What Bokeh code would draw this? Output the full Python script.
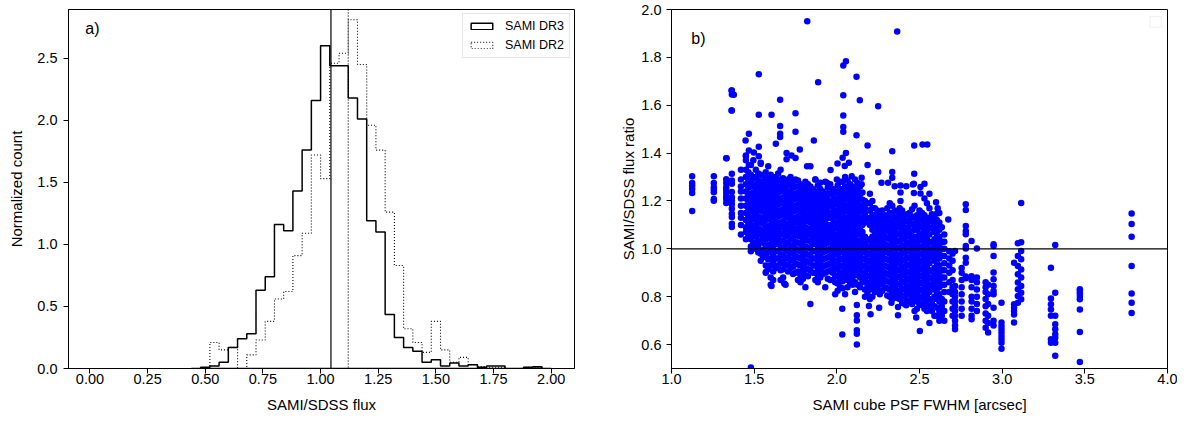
from bokeh.plotting import figure
from bokeh.models import (Range1d, FixedTicker, PrintfTickFormatter, Span, Label,
                          Legend, LegendItem, BoxAnnotation)
from bokeh.layouts import row
from bokeh.embed import file_html
from bokeh.resources import INLINE

FONT = "Liberation Sans"

# ---------------- panel a) histogram data ----------------
bin_edges = [0.44, 0.48, 0.52, 0.56, 0.60, 0.64, 0.68, 0.72, 0.76, 0.80,
             0.84, 0.88, 0.92, 0.96, 1.00, 1.04, 1.08, 1.12, 1.16, 1.20,
             1.24, 1.28, 1.32, 1.36, 1.40, 1.44, 1.48, 1.52, 1.56, 1.60,
             1.64, 1.68, 1.72, 1.76, 1.80, 1.84, 1.88, 1.92, 1.96, 2.00]
dr3_counts = [0.0, 0.01, 0.02, 0.05, 0.17, 0.24, 0.28, 0.63, 0.74, 1.16,
              1.11, 1.43, 1.76, 2.16, 2.60, 2.44, 2.44, 2.18, 2.01, 1.19,
              1.10, 0.435, 0.25, 0.17, 0.14, 0.05, 0.07, 0.02, 0.045, 0.02,
              0.03, 0.01, 0.02, 0.02, 0.0, 0.0, 0.01, 0.015, 0.0]
dr2_counts = [0.0, 0.0, 0.21, 0.15, 0.17, 0.0, 0.11, 0.23, 0.38, 0.56,
              0.62, 0.91, 1.09, 1.72, 1.53, 2.46, 2.54, 2.81, 2.45, 1.96,
              1.76, 1.26, 0.83, 0.32, 0.21, 0.13, 0.38, 0.15, 0.05, 0.09,
              0.03, 0.015, 0.01, 0.01, 0.0, 0.0, 0.01, 0.01, 0.0]
dr3_median = 1.045
dr2_median = 1.12
hist_x_ticks = [0.0, 0.25, 0.5, 0.75, 1.0, 1.25, 1.5, 1.75, 2.0]
hist_y_ticks = [0.0, 0.5, 1.0, 1.5, 2.0, 2.5]

# ---------------- panel b) scatter data ----------------
col_fwhm = [1.125, 1.256, 1.331, 1.365, 1.42, 1.45, 1.48, 1.51, 1.54, 1.57,
            1.60, 1.63, 1.66, 1.69, 1.72, 1.75, 1.78, 1.81, 1.84, 1.87,
            1.90, 1.93, 1.96, 1.99, 2.02, 2.05, 2.08, 2.11, 2.14, 2.17,
            2.20, 2.23, 2.26, 2.29, 2.32, 2.35, 2.38, 2.41, 2.44, 2.47,
            2.50, 2.53, 2.56, 2.59, 2.62, 2.65, 2.68, 2.70, 2.715, 2.755,
            2.78, 2.815, 2.847, 2.90, 2.915, 2.948, 2.996, 3.072, 3.095, 3.115,
            3.295, 3.321, 3.47, 3.783]
col_ratio = [
    [1.303, 1.275, 1.264, 1.250, 1.233, 1.158],
    [1.303, 1.275, 1.257, 1.247, 1.236, 1.208, 1.201],
    [1.378, 1.291, 1.275, 1.257, 1.247, 1.233, 1.219, 1.208, 1.191],
    [1.662, 1.645, 1.578, 1.314, 1.286, 1.272, 1.237, 1.216, 1.202, 1.186, 1.168, 1.147, 1.133, 1.105, 1.091],
    [1.33, 1.29, 1.26, 1.24, 1.21, 1.18, 1.15, 1.13, 1.10, 1.06],
    [1.39, 1.33, 1.30, 1.27, 1.24, 1.21, 1.18, 1.15, 1.12, 1.09, 1.07, 1.04],
    [1.35, 1.31, 1.28, 1.26, 1.23, 1.20, 1.18, 1.15, 1.12, 1.10, 1.07, 1.04, 1.01, 0.99],
    [1.33, 1.30, 1.27, 1.25, 1.22, 1.20, 1.17, 1.15, 1.12, 1.10, 1.07, 1.05, 1.02, 1.00],
    [1.36, 1.31, 1.28, 1.25, 1.23, 1.20, 1.18, 1.16, 1.13, 1.11, 1.08, 1.06, 1.03, 0.98, 0.95],
    [1.32, 1.29, 1.27, 1.24, 1.22, 1.19, 1.17, 1.14, 1.12, 1.09, 1.06, 1.04, 1.01, 0.97, 0.93, 0.90],
    [1.31, 1.28, 1.26, 1.23, 1.21, 1.18, 1.16, 1.13, 1.10, 1.08, 1.05, 1.02, 0.99, 0.96, 0.93, 0.88, 0.85],
    [1.30, 1.27, 1.25, 1.22, 1.20, 1.17, 1.15, 1.12, 1.10, 1.07, 1.04, 1.02, 0.99, 0.96, 0.92],
    [1.33, 1.29, 1.26, 1.24, 1.21, 1.19, 1.16, 1.14, 1.11, 1.09, 1.06, 1.03, 1.00, 0.97, 0.94, 0.91, 0.87],
    [1.28, 1.25, 1.23, 1.20, 1.18, 1.15, 1.13, 1.10, 1.08, 1.05, 1.02, 0.99, 0.96, 0.93, 0.85],
    [1.30, 1.27, 1.24, 1.22, 1.19, 1.17, 1.14, 1.12, 1.09, 1.07, 1.04, 1.01, 0.98, 0.95, 0.92],
    [1.29, 1.26, 1.23, 1.21, 1.18, 1.16, 1.13, 1.11, 1.08, 1.06, 1.03, 1.00, 0.97, 0.94, 0.90],
    [1.27, 1.25, 1.22, 1.20, 1.17, 1.15, 1.12, 1.10, 1.07, 1.05, 1.02, 0.99, 0.96, 0.93, 0.89, 0.86],
    [1.28, 1.25, 1.22, 1.19, 1.17, 1.14, 1.12, 1.09, 1.07, 1.04, 1.01, 0.98, 0.95, 0.92, 0.89, 0.84],
    [1.26, 1.23, 1.21, 1.18, 1.16, 1.13, 1.11, 1.08, 1.06, 1.03, 1.00, 0.97, 0.94, 0.91, 0.77],
    [1.29, 1.24, 1.22, 1.19, 1.17, 1.14, 1.12, 1.09, 1.07, 1.04, 1.02, 0.99, 0.96, 0.93, 0.90, 0.87],
    [1.25, 1.23, 1.20, 1.18, 1.15, 1.13, 1.10, 1.08, 1.05, 1.03, 1.00, 0.97, 0.94, 0.91, 0.88],
    [1.28, 1.22, 1.19, 1.17, 1.14, 1.12, 1.09, 1.07, 1.04, 1.02, 0.99, 0.96, 0.93, 0.90, 0.84],
    [1.27, 1.23, 1.20, 1.18, 1.15, 1.13, 1.10, 1.08, 1.05, 1.03, 1.00, 0.97, 0.94, 0.91, 0.87],
    [1.24, 1.21, 1.19, 1.16, 1.14, 1.11, 1.09, 1.06, 1.04, 1.01, 0.98, 0.95, 0.92, 0.89, 0.86, 0.81],
    [1.28, 1.25, 1.22, 1.20, 1.17, 1.15, 1.12, 1.10, 1.07, 1.05, 1.02, 0.99, 0.96, 0.93, 0.90, 0.87, 0.84],
    [1.30, 1.26, 1.23, 1.21, 1.18, 1.16, 1.13, 1.11, 1.08, 1.06, 1.03, 1.00, 0.97, 0.94, 0.91, 0.88, 0.81],
    [1.27, 1.24, 1.22, 1.19, 1.17, 1.14, 1.12, 1.09, 1.07, 1.04, 1.01, 0.98, 0.95, 0.92, 0.89, 0.86],
    [1.29, 1.25, 1.23, 1.20, 1.18, 1.15, 1.13, 1.10, 1.08, 1.05, 1.02, 0.99, 0.96, 0.93, 0.90, 0.86, 0.82],
    [1.26, 1.23, 1.21, 1.18, 1.16, 1.13, 1.11, 1.08, 1.06, 1.03, 1.00, 0.97, 0.94, 0.91, 0.88, 0.84],
    [1.20, 1.17, 1.14, 1.11, 1.05, 1.02, 0.99, 0.96, 0.93, 0.90, 0.87, 0.83, 0.80],
    [1.23, 1.19, 1.16, 1.13, 1.10, 1.04, 1.01, 0.98, 0.95, 0.92, 0.89, 0.86, 0.83, 0.79],
    [1.17, 1.14, 1.12, 1.09, 1.06, 1.03, 1.00, 0.97, 0.94, 0.91, 0.88, 0.85, 0.82],
    [1.15, 1.12, 1.09, 1.06, 1.03, 1.00, 0.97, 0.94, 0.91, 0.88, 0.85, 0.81],
    [1.14, 1.11, 1.08, 1.05, 1.02, 0.99, 0.96, 0.93, 0.90, 0.87, 0.84],
    [1.19, 1.15, 1.12, 1.09, 1.07, 1.04, 1.01, 0.98, 0.95, 0.92, 0.89, 0.86, 0.83, 0.80],
    [1.16, 1.13, 1.10, 1.08, 1.05, 1.02, 0.99, 0.96, 0.93, 0.90, 0.87, 0.84, 0.81],
    [1.17, 1.14, 1.11, 1.09, 1.06, 1.03, 1.00, 0.97, 0.94, 0.91, 0.88, 0.85, 0.82, 0.79],
    [1.14, 1.12, 1.09, 1.07, 1.04, 1.01, 0.98, 0.95, 0.92, 0.89, 0.86, 0.83, 0.80, 0.77],
    [1.15, 1.12, 1.10, 1.07, 1.05, 1.02, 0.99, 0.96, 0.93, 0.90, 0.87, 0.84, 0.81, 0.78],
    [1.18, 1.13, 1.10, 1.08, 1.05, 1.03, 1.00, 0.97, 0.94, 0.91, 0.88, 0.85, 0.82, 0.79],
    [1.16, 1.12, 1.09, 1.06, 1.04, 1.01, 0.98, 0.95, 0.92, 0.89, 0.86, 0.83, 0.80, 0.77],
    [1.21, 1.14, 1.11, 1.08, 1.05, 1.02, 0.99, 0.96, 0.93, 0.90, 0.87, 0.84, 0.81, 0.78, 0.75],
    [1.23, 1.17, 1.12, 1.09, 1.06, 1.03, 1.00, 0.97, 0.94, 0.91, 0.88, 0.85, 0.82, 0.79, 0.76, 0.69],
    [1.13, 1.10, 1.07, 1.04, 1.01, 0.98, 0.95, 0.92, 0.89, 0.86, 0.83, 0.80, 0.76, 0.72],
    [1.15, 1.11, 1.08, 1.05, 1.02, 0.99, 0.96, 0.93, 0.90, 0.87, 0.84, 0.81, 0.78, 0.74, 0.70],
    [1.06, 1.03, 1.00, 0.97, 0.94, 0.91, 0.88, 0.85, 0.82, 0.78, 0.74, 0.70],
    [0.99, 0.96, 0.93, 0.90, 0.86, 0.82],
    [0.98, 0.95, 0.91, 0.87, 0.84, 0.81, 0.78, 0.75, 0.72],
    [0.991, 0.845, 0.82, 0.80, 0.78, 0.76, 0.74, 0.72, 0.70, 0.68, 0.664],
    [0.92, 0.90, 0.87, 0.84, 0.81, 0.78, 0.75, 0.72],
    [1.186, 1.162, 1.095, 1.074, 1.061, 1.012, 1.001, 0.963, 0.942, 0.884, 0.877],
    [1.033, 0.885, 0.87, 0.84, 0.80, 0.78, 0.75, 0.72, 0.706],
    [1.001, 0.88, 0.86, 0.83, 0.80, 0.77, 0.74],
    [0.86, 0.84, 0.82, 0.79, 0.76, 0.73, 0.70, 0.67],
    [0.85, 0.81, 0.77, 0.72, 0.69, 0.65],
    [1.019, 1.012, 0.97, 0.901, 0.873, 0.845, 0.824, 0.81, 0.754, 0.70, 0.68],
    [0.775, 0.692, 0.678, 0.664, 0.65, 0.636, 0.622, 0.608, 0.583],
    [0.942, 0.768, 0.754, 0.74, 0.726, 0.692],
    [1.023, 0.97, 0.928, 0.894, 0.859, 0.831, 0.803, 0.775],
    [1.191, 1.028, 0.991, 0.956, 0.914, 0.88, 0.845, 0.817, 0.789],
    [0.921, 0.793, 0.768, 0.747, 0.72, 0.622, 0.608],
    [1.016, 0.817, 0.72, 0.685, 0.664, 0.643, 0.629, 0.608, 0.553],
    [0.831, 0.824, 0.814, 0.803, 0.789, 0.747, 0.653, 0.527],
    [1.148, 1.104, 1.051, 0.928, 0.813, 0.775, 0.732],
]
# in-between columns of the dense core
core_fwhm = [1.465, 1.495, 1.525, 1.555, 1.585, 1.615, 1.645, 1.675, 1.705, 1.735,
             1.765, 1.795, 1.825, 1.855, 1.885, 1.915, 1.945, 1.975, 2.005, 2.035,
             2.065, 2.095, 2.125, 2.155, 2.185, 2.215, 2.245, 2.275, 2.305, 2.335,
             2.365, 2.395, 2.425, 2.455, 2.485, 2.515, 2.545, 2.575, 2.605, 2.635]
core_ratio = [
    [1.32, 1.285, 1.255, 1.225, 1.195, 1.165, 1.135, 1.105, 1.08, 1.055],
    [1.37, 1.295, 1.265, 1.235, 1.21, 1.185, 1.16, 1.135, 1.085, 1.055, 1.025, 1.005],
    [1.315, 1.285, 1.26, 1.235, 1.21, 1.185, 1.16, 1.135, 1.11, 1.085, 1.06, 1.035, 1.01, 0.985],
    [1.305, 1.28, 1.255, 1.23, 1.205, 1.18, 1.155, 1.13, 1.105, 1.075, 1.05, 1.025, 0.995, 0.965],
    [1.345, 1.30, 1.275, 1.25, 1.225, 1.20, 1.175, 1.15, 1.125, 1.095, 1.07, 1.045, 1.015, 0.985, 0.955, 0.915],
    [1.29, 1.265, 1.24, 1.215, 1.19, 1.165, 1.14, 1.115, 1.09, 1.06, 1.035, 1.005, 0.975, 0.945, 0.905, 0.87],
    [1.315, 1.285, 1.26, 1.235, 1.21, 1.185, 1.16, 1.135, 1.105, 1.08, 1.05, 1.02, 0.99, 0.96, 0.93],
    [1.295, 1.27, 1.245, 1.215, 1.19, 1.165, 1.14, 1.115, 1.09, 1.065, 1.035, 1.005, 0.975, 0.945, 0.915, 0.88],
    [1.29, 1.265, 1.24, 1.21, 1.185, 1.16, 1.135, 1.105, 1.08, 1.055, 1.025, 0.995, 0.965, 0.935, 0.905],
    [1.28, 1.255, 1.23, 1.205, 1.18, 1.155, 1.125, 1.10, 1.075, 1.045, 1.015, 0.985, 0.955, 0.925, 0.895],
    [1.285, 1.26, 1.235, 1.21, 1.185, 1.16, 1.135, 1.11, 1.085, 1.055, 1.025, 0.995, 0.965, 0.935, 0.905, 0.87],
    [1.265, 1.235, 1.21, 1.185, 1.16, 1.135, 1.105, 1.08, 1.055, 1.03, 1.00, 0.97, 0.94, 0.91, 0.875],
    [1.27, 1.24, 1.215, 1.19, 1.165, 1.14, 1.115, 1.085, 1.06, 1.035, 1.005, 0.975, 0.945, 0.915, 0.885],
    [1.25, 1.225, 1.20, 1.175, 1.15, 1.125, 1.10, 1.075, 1.05, 1.02, 0.99, 0.96, 0.93, 0.90],
    [1.265, 1.235, 1.21, 1.185, 1.16, 1.135, 1.11, 1.085, 1.06, 1.035, 1.01, 0.98, 0.95, 0.92, 0.89, 0.86],
    [1.24, 1.21, 1.185, 1.16, 1.135, 1.11, 1.085, 1.06, 1.035, 1.01, 0.985, 0.955, 0.925, 0.895],
    [1.255, 1.23, 1.205, 1.18, 1.155, 1.13, 1.10, 1.075, 1.05, 1.025, 0.995, 0.965, 0.935, 0.905, 0.875],
    [1.25, 1.225, 1.20, 1.175, 1.15, 1.125, 1.10, 1.07, 1.045, 1.02, 0.99, 0.96, 0.93, 0.90, 0.87],
    [1.265, 1.235, 1.21, 1.185, 1.16, 1.135, 1.11, 1.085, 1.06, 1.03, 1.00, 0.975, 0.945, 0.915, 0.885, 0.855, 0.825],
    [1.28, 1.245, 1.22, 1.195, 1.17, 1.145, 1.12, 1.095, 1.07, 1.04, 1.015, 0.985, 0.955, 0.925, 0.895, 0.865, 0.835],
    [1.285, 1.255, 1.23, 1.205, 1.18, 1.155, 1.125, 1.10, 1.075, 1.05, 1.02, 0.99, 0.96, 0.93, 0.90, 0.87, 0.84],
    [1.26, 1.235, 1.21, 1.185, 1.16, 1.135, 1.11, 1.085, 1.06, 1.03, 1.00, 0.97, 0.94, 0.91, 0.88, 0.85],
    [1.275, 1.245, 1.22, 1.195, 1.17, 1.14, 1.115, 1.09, 1.065, 1.035, 1.01, 0.98, 0.95, 0.92, 0.89, 0.85],
    [1.235, 1.205, 1.18, 1.155, 1.125, 1.10, 1.07, 1.045, 1.015, 0.985, 0.955, 0.925, 0.895, 0.86],
    [1.19, 1.16, 1.125, 1.035, 1.005, 0.975, 0.945, 0.915, 0.885, 0.85, 0.815],
    [1.20, 1.17, 1.14, 1.11, 1.08, 1.05, 1.02, 0.99, 0.96, 0.93, 0.90, 0.87, 0.84, 0.80],
    [1.16, 1.13, 1.10, 1.075, 1.045, 1.015, 0.985, 0.955, 0.925, 0.895, 0.865, 0.83],
    [1.16, 1.13, 1.10, 1.07, 1.04, 1.01, 0.98, 0.95, 0.92, 0.89, 0.86, 0.825],
    [1.17, 1.13, 1.10, 1.075, 1.045, 1.015, 0.985, 0.955, 0.925, 0.895, 0.865, 0.835, 0.805],
    [1.18, 1.145, 1.115, 1.09, 1.06, 1.03, 1.00, 0.97, 0.94, 0.91, 0.88, 0.85, 0.82, 0.79],
    [1.155, 1.125, 1.095, 1.065, 1.035, 1.005, 0.975, 0.945, 0.915, 0.885, 0.855, 0.825, 0.795],
    [1.16, 1.13, 1.10, 1.075, 1.045, 1.015, 0.985, 0.955, 0.925, 0.895, 0.865, 0.835, 0.805, 0.775],
    [1.145, 1.115, 1.085, 1.055, 1.025, 0.995, 0.965, 0.935, 0.905, 0.875, 0.845, 0.815, 0.785],
    [1.165, 1.135, 1.105, 1.075, 1.04, 1.01, 0.98, 0.95, 0.92, 0.89, 0.86, 0.83, 0.80, 0.77],
    [1.14, 1.11, 1.08, 1.05, 1.02, 0.99, 0.96, 0.93, 0.90, 0.87, 0.84, 0.81, 0.78, 0.75],
    [1.15, 1.125, 1.095, 1.065, 1.035, 1.005, 0.975, 0.945, 0.915, 0.885, 0.855, 0.825, 0.795, 0.765],
    [1.19, 1.13, 1.10, 1.07, 1.04, 1.01, 0.98, 0.95, 0.92, 0.89, 0.86, 0.83, 0.80, 0.77, 0.74],
    [1.145, 1.115, 1.085, 1.025, 0.995, 0.965, 0.905, 0.875, 0.845, 0.78, 0.74],
    [1.12, 1.09, 1.06, 1.03, 1.00, 0.97, 0.94, 0.91, 0.88, 0.85, 0.82, 0.79, 0.755, 0.72],
    [1.09, 1.03, 1.00, 0.97, 0.91, 0.88, 0.85, 0.79, 0.76, 0.72],
]
single_fwhm = [1.528, 1.363, 1.377, 1.363, 1.657, 1.528, 1.605, 1.657, 1.657, 1.657,
               1.468, 1.448, 1.631, 1.528, 1.75, 1.75, 1.468, 1.498, 1.45, 1.528,
               1.696, 1.726, 1.75, 1.333, 1.45, 1.468, 1.54, 1.696, 1.821, 2.365,
               2.055, 2.039, 1.887, 2.119, 2.039, 2.139, 2.25, 2.039, 2.039, 2.039,
               2.119, 1.861, 2.186, 2.335, 2.468, 1.776, 2.055, 2.035, 2.073, 2.004,
               2.048, 1.82, 1.84, 2.186, 1.962, 2.25, 2.335, 2.335, 2.468, 2.518,
               2.547, 2.466, 2.466, 2.506, 2.506, 2.53, 2.385, 2.385, 2.385, 2.60,
               2.61, 2.605, 2.674, 1.48, 2.033, 2.033, 2.121, 2.121, 2.121, 2.121,
               2.121, 2.121, 2.194, 2.204, 2.256, 2.33, 2.37, 2.37, 2.42, 2.47,
               2.48, 2.502, 1.87, 1.90, 1.94, 2.00, 2.09, 2.15, 2.15, 2.27,
               2.31, 2.35, 2.42, 2.46, 1.571, 1.605, 1.682]
single_ratio = [1.729, 1.662, 1.644, 1.578, 1.623, 1.56, 1.56, 1.513, 1.481, 1.467,
                1.481, 1.453, 1.439, 1.427, 1.566, 1.489, 1.411, 1.402, 1.387, 1.387,
                1.40, 1.39, 1.38, 1.378, 1.37, 1.35, 1.355, 1.374, 1.951, 1.908,
                1.784, 1.766, 1.696, 1.719, 1.642, 1.621, 1.596, 1.557, 1.509, 1.489,
                1.475, 1.453, 1.432, 1.408, 1.432, 1.415, 1.40, 1.381, 1.36, 1.357,
                1.346, 1.345, 1.345, 1.35, 1.329, 1.321, 1.321, 1.297, 1.314, 1.436,
                1.436, 1.272, 1.233, 1.258, 1.231, 1.272, 1.265, 1.235, 1.20, 1.195,
                1.17, 1.148, 1.123, 0.504, 0.75, 0.642, 0.765, 0.722, 0.701, 0.66,
                0.645, 0.60, 0.761, 0.727, 0.754, 0.775, 0.757, 0.722, 0.764, 0.74,
                0.713, 0.657, 1.29, 1.276, 1.276, 1.29, 1.303, 1.297, 1.27, 1.276,
                1.276, 1.262, 1.262, 1.269, 0.903, 0.845, 0.855]
ratio_ref = 1.0
scat_x_ticks = [1.0, 1.5, 2.0, 2.5, 3.0, 3.5, 4.0]
scat_y_ticks = [0.6, 0.8, 1.0, 1.2, 1.4, 1.6, 1.8, 2.0]

DOT = "1 2"


def style(p):
    p.grid.visible = False
    p.outline_line_color = "black"
    p.outline_line_width = 1
    p.background_fill_color = "white"
    p.border_fill_color = "white"
    for ax in (p.xaxis[0], p.yaxis[0]):
        ax.axis_line_color = "black"
        ax.major_tick_line_color = "black"
        ax.major_tick_out = 5
        ax.major_tick_in = 0
        ax.minor_tick_line_color = None
        ax.major_label_text_font = FONT
        ax.major_label_text_font_size = "14.5px"
        ax.major_label_text_color = "black"
        ax.axis_label_text_font = FONT
        ax.axis_label_text_font_size = "15px"
        ax.axis_label_text_font_style = "normal"
        ax.axis_label_text_color = "black"
    p.xaxis[0].major_label_standoff = 0
    p.yaxis[0].major_label_standoff = 6


def step_outline(edges, counts):
    xs, ys = [edges[0]], [0.0]
    for i, c in enumerate(counts):
        xs += [edges[i], edges[i + 1]]
        ys += [c, c]
    xs.append(edges[-1])
    ys.append(0.0)
    return xs, ys


# ---------------- panel a ----------------
p1 = figure(frame_width=506, frame_height=359, min_border_left=68, min_border_right=5,
            min_border_top=9, min_border_bottom=52,
            x_range=Range1d(-0.093, 2.101), y_range=Range1d(0, 2.893),
            output_backend="svg", toolbar_location=None)
style(p1)
p1.xaxis.ticker = FixedTicker(ticks=hist_x_ticks)
p1.xaxis.formatter = PrintfTickFormatter(format="%.2f")
p1.yaxis.ticker = FixedTicker(ticks=hist_y_ticks)
p1.yaxis.formatter = PrintfTickFormatter(format="%.1f")
p1.xaxis.axis_label = "SAMI/SDSS flux"
p1.yaxis.axis_label = "Normalized count"
p1.xaxis.axis_label_standoff = 9
p1.yaxis.axis_label_standoff = 9

x3, y3 = step_outline(bin_edges, dr3_counts)
x2, y2 = step_outline(bin_edges, dr2_counts)
h2 = p1.patch(x2, y2, fill_alpha=0, line_color="black", line_width=1.1, line_dash=DOT)
h3 = p1.patch(x3, y3, fill_alpha=0, line_color="black", line_width=1.5)
p1.add_layout(Span(location=dr3_median, dimension="height", line_color="black", line_width=1.2))
p1.add_layout(Span(location=dr2_median, dimension="height", line_color="black", line_width=1.2,
                   line_dash=DOT))

legend = Legend(items=[LegendItem(label="SAMI DR3", renderers=[h3]),
                       LegendItem(label="SAMI DR2", renderers=[h2])],
                location="top_right")
legend.label_text_font = FONT
legend.label_text_font_size = "12.5px"
legend.label_text_color = "black"
legend.glyph_width = 27
legend.glyph_height = 8
legend.label_height = 14
legend.label_standoff = 10
legend.spacing = 5
legend.padding = 5
legend.margin = 4
legend.border_line_color = "#cccccc"
legend.border_line_width = 1
legend.background_fill_alpha = 0.9
p1.add_layout(legend)

p1.add_layout(Label(x=-0.02, y=2.74, text="a)", text_font=FONT, text_font_size="16px",
                    text_baseline="middle", text_color="black"))

# ---------------- panel b ----------------
p2 = figure(frame_width=496, frame_height=359, min_border_left=92, min_border_right=10,
            min_border_top=9, min_border_bottom=52,
            x_range=Range1d(1.0, 4.0), y_range=Range1d(0.5, 2.0),
            output_backend="svg", toolbar_location=None)
style(p2)
p2.yaxis.major_label_standoff = 5
p2.xaxis.ticker = FixedTicker(ticks=scat_x_ticks)
p2.xaxis.formatter = PrintfTickFormatter(format="%.1f")
p2.yaxis.ticker = FixedTicker(ticks=scat_y_ticks)
p2.yaxis.formatter = PrintfTickFormatter(format="%.1f")
p2.xaxis.axis_label = "SAMI cube PSF FWHM [arcsec]"
p2.yaxis.axis_label = "SAMI/SDSS flux ratio"
p2.xaxis.axis_label_standoff = 9
p2.yaxis.axis_label_standoff = 1

fwhm = []
ratio = []
for cx, ys in list(zip(col_fwhm, col_ratio)) + list(zip(core_fwhm, core_ratio)):
    fwhm += [cx] * len(ys)
    ratio += ys
fwhm += single_fwhm
ratio += single_ratio

p2.scatter(fwhm, ratio, size=6.5, fill_color="blue", line_color=None)
p2.add_layout(Span(location=ratio_ref, dimension="width", line_color="black", line_width=1.4))
p2.add_layout(BoxAnnotation(left=3.894, right=3.963, bottom=1.926, top=1.971,
                            fill_color="white", fill_alpha=1.0,
                            line_color="#cccccc", line_width=1))
p2.add_layout(Label(x=1.12, y=1.879, text="b)", text_font=FONT, text_font_size="16px",
                    text_baseline="middle", text_color="black"))

layout = row(p1, p2)
open("out.html", "w").write(file_html(layout, INLINE))
